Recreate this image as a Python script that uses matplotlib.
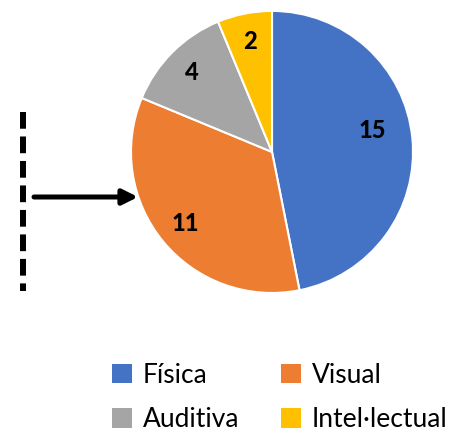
import numpy as np
import matplotlib
matplotlib.use("Agg")
import matplotlib.pyplot as plt
from matplotlib.patches import Patch

plt.rcParams['font.family'] = ['Lato', 'DejaVu Sans']

# Datos
categorias = ['Física', 'Visual', 'Auditiva', 'Intel·lectual']
valores = [15, 11, 4, 2]
colores = ['#4472C4', '#ED7D31', '#A5A5A5', '#FFC000']

fig = plt.figure(figsize=(4.59, 4.34), dpi=100)

# Capa de fondo para la línea discontinua y la flecha (coordenadas en píxeles)
capa = fig.add_axes([0, 0, 1, 1])
capa.set_xlim(0, 459)
capa.set_ylim(434, 0)
capa.axis('off')
linea, = capa.plot([23, 23], [112, 291], color='black', lw=4.3, solid_capstyle='butt')
linea.set_dashes([2.8, 1.3])
capa.annotate('', xy=(138, 197), xytext=(34, 197),
              arrowprops=dict(arrowstyle='-|>,head_length=0.9,head_width=0.45',
                              color='black', lw=3.6, shrinkA=0, shrinkB=0))

# Gráfico de pastel
ax = fig.add_axes([0.2854, 0.325, 0.6144, 0.6498])
wedges, textos, numeros = ax.pie(valores, colors=colores, startangle=90, counterclock=False,
                                 autopct=lambda p: '{:.0f}'.format(p * sum(valores) / 100),
                                 pctdistance=0.8, radius=1,
                                 wedgeprops=dict(edgecolor='white', linewidth=1.5),
                                 textprops=dict(fontsize=17, fontweight='black', color='black'))
# etiqueta de Física un poco más arriba y hacia dentro
ang = np.deg2rad(12)
numeros[0].set_position((0.73 * np.cos(ang), 0.73 * np.sin(ang)))
ax.set_xlim(-1, 1)
ax.set_ylim(-1, 1)
ax.set_aspect('auto')

# Leyenda en dos filas (la leyenda se llena por columnas)
orden = [0, 2, 1, 3]
handles = [Patch(facecolor=colores[i], edgecolor='none') for i in orden]
etiquetas = [categorias[i] for i in orden]
fig.legend(handles, etiquetas, loc='upper left', bbox_to_anchor=(0.216, 0.195),
           ncol=2, frameon=False, fontsize=19, handlelength=0.75, handleheight=0.75,
           handletextpad=0.4, columnspacing=1.6, labelspacing=0.75, borderpad=0)

fig.savefig('out.png', dpi=100)
